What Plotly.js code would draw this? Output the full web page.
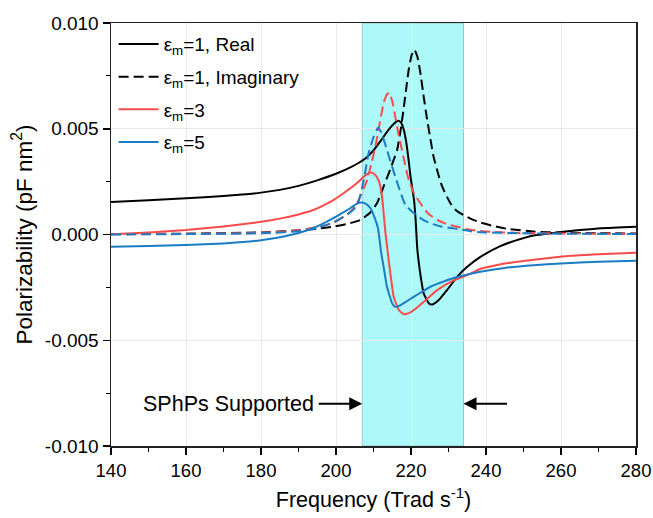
<!DOCTYPE html>
<html>
<head>
<meta charset="utf-8">
<script src="https://cdn.plot.ly/plotly-3.0.1.min.js"></script>
<style>html,body{margin:0;padding:0;background:#fff;}#chart{width:653px;height:518px;}</style>
</head>
<body>
<div id="chart"></div>
<script>
// Values in units of 0.001 pF nm^2 (scaled below)
const blackRealX = [140,150,160,170,175,180,185,190,195,200,203,206,208,210,212,214,215.5,216.5,217.3,218,218.7,219.3,219.9,220.5,220.8,221.2,221.7,222.6,223.4,224.8,225.7,227.4,229.6,232.3,235,238.6,243.8,248,252.7,260,265,270.6,275,280];
const blackRealY = [1.54,1.62,1.71,1.82,1.89,1.98,2.11,2.30,2.56,2.87,3.10,3.38,3.62,3.98,4.45,4.95,5.25,5.38,5.30,5.00,4.40,3.60,2.70,2.00,1.64,0.80,-0.73,-2.00,-2.79,-3.26,-3.31,-3.10,-2.63,-2.00,-1.53,-1.05,-0.55,-0.28,-0.05,0.12,0.21,0.29,0.33,0.37];

const blackImagX = [140,160,180,190,195,199.3,203,206.5,209.2,211,212.7,214.5,216.3,217.2,218,218.8,219.4,220.2,220.9,221.7,222.5,223.4,224.3,225.2,226,227.2,228.3,230.5,232,234,236,238.6,242,245.6,252.7,260,270,280];
const blackImagY = [0.02,0.04,0.10,0.20,0.27,0.37,0.50,0.69,1.05,1.50,2.27,3.10,4.00,4.90,5.90,7.00,7.80,8.50,8.75,8.40,7.64,6.50,5.43,4.50,3.69,2.90,2.27,1.48,1.15,0.92,0.74,0.56,0.40,0.27,0.14,0.09,0.06,0.05];

const redRealX = [140,150,160,170,180,185,190,193.4,196,199.3,202,205.6,207.5,209.2,210.3,211.4,212.2,213.2,214.5,215.4,216.8,218.1,219.4,220.7,223.4,227,231.5,235,238.6,243,248.3,255,261.7,270,280];
const redRealY = [0.01,0.10,0.21,0.38,0.60,0.75,0.95,1.12,1.32,1.63,1.95,2.43,2.75,2.93,2.85,2.55,1.90,0.06,-1.84,-2.95,-3.58,-3.77,-3.72,-3.58,-3.18,-2.63,-2.16,-1.92,-1.62,-1.44,-1.29,-1.15,-1.02,-0.93,-0.86];

const redImagX = [140,160,180,190,195,199.3,203,205,206.5,208.3,209.5,210.5,211.6,212.7,213.5,214.2,215,215.8,216.5,217.2,218.3,219.4,220.8,222.5,224.5,227,230,232.3,235,237.7,242,250,260,280];
const redImagY = [0.01,0.03,0.08,0.20,0.35,0.55,0.95,1.30,1.80,2.58,3.40,4.16,5.20,6.22,6.60,6.70,6.30,5.58,4.90,4.32,3.40,2.58,1.95,1.48,1.00,0.69,0.46,0.37,0.25,0.18,0.12,0.07,0.05,0.03];

const blueRealX = [140,150,160,170,175,180,185,190,193.4,196,199.3,201.5,203.8,205.5,206.9,208,209.2,210.2,211.2,212,212.7,213.5,214.1,215,215.8,217,218.5,220.7,223,225.2,227.5,229.6,233.2,238.5,245,252.7,260,270,280];
const blueRealY = [-0.58,-0.54,-0.50,-0.42,-0.36,-0.27,-0.13,0.07,0.27,0.47,0.77,1.00,1.24,1.45,1.51,1.45,1.24,0.85,0.30,-0.80,-1.53,-2.40,-2.79,-3.26,-3.42,-3.36,-3.20,-2.95,-2.70,-2.47,-2.30,-2.16,-1.97,-1.76,-1.58,-1.45,-1.37,-1.29,-1.24];

const blueImagX = [140,160,180,190,195,199.3,203,204.8,206,207.4,208.7,210,211.2,212,213.6,214.8,215.8,217,218.5,220.8,223,225.2,228,231.5,236.8,240,250,260,280];
const blueImagY = [0.00,0.02,0.06,0.15,0.30,0.58,0.95,1.20,1.55,2.58,3.85,4.60,5.05,4.85,4.00,3.30,2.74,2.10,1.40,1.00,0.72,0.53,0.38,0.29,0.13,0.10,0.06,0.04,0.02];

const seriesNames = ['ε<sub>m</sub>=1, Real','ε<sub>m</sub>=1, Imaginary','ε<sub>m</sub>=3','ε<sub>m</sub>=5'];
const yTickVals = [0.010,0.005,0.000,-0.005,-0.010];
const yTickText = ['0.010','0.005','0.000','-0.005','-0.010'];
const xTickVals = [140,160,180,200,220,240,260,280];
const bandX = [207,234];
const arrowY = -0.008;
const leftArrowFrom = 195, rightArrowFrom = 246;

const sc = a => a.map(v => v/1000);
const BLACK='#000000', RED='#fa4b4b', BLUE='#1a7cc4';

function tr(x,y,name,color,dash,show,group){
  return {x:x,y:sc(y),type:'scatter',mode:'lines',name:name,showlegend:show,legendgroup:group,
    line:{color:color,width:2,dash:dash,shape:'spline',smoothing:0.5},hoverinfo:'skip'};
}
const DASH='10px,5px';
const data = [
  tr(blackRealX,blackRealY,seriesNames[0],BLACK,'solid',true,'a'),
  tr(blackImagX,blackImagY,seriesNames[1],BLACK,DASH,true,'b'),
  tr(redRealX,redRealY,seriesNames[2],RED,'solid',true,'c'),
  tr(redImagX,redImagY,seriesNames[2],RED,DASH,false,'c2'),
  tr(blueRealX,blueRealY,seriesNames[3],BLUE,'solid',true,'d'),
  tr(blueImagX,blueImagY,seriesNames[3],BLUE,DASH,false,'d2')
];

const font = {family:'Liberation Sans, Arial, sans-serif',color:'#000'};
const layout = {
  width:653,height:518,
  margin:{l:111,r:17,t:23,b:72},
  paper_bgcolor:'#fff',plot_bgcolor:'#fff',
  font:Object.assign({size:18},font),
  showlegend:true,
  legend:{x:0.005,y:0.995,xanchor:'left',yanchor:'top',bgcolor:'rgba(0,0,0,0)',
    font:Object.assign({size:19},font),tracegroupgap:5,itemwidth:40},
  xaxis:{range:[140,280],tickvals:xTickVals,ticks:'outside',ticklen:7,tickwidth:1.5,tickcolor:'#000',
    showline:true,linecolor:'#222',linewidth:1.5,mirror:true,showgrid:true,gridcolor:'#e8e8e8',gridwidth:1,
    zeroline:false,tickfont:Object.assign({size:18.5},font),
    minor:{dtick:10,tick0:140,ticks:'outside',ticklen:4,tickcolor:'#000',tickwidth:1.2,showgrid:false},
    title:{text:'Frequency (Trad s<sup>-1</sup>)',font:Object.assign({size:21.5},font),standoff:12}},
  yaxis:{range:[-0.010,0.010],tickvals:yTickVals,ticktext:yTickText,ticks:'outside',ticklen:7,tickwidth:1.5,tickcolor:'#000',
    showline:true,linecolor:'#222',linewidth:1.5,mirror:true,showgrid:true,gridcolor:'#e8e8e8',gridwidth:1,
    zeroline:false,tickfont:Object.assign({size:19},font),
    minor:{dtick:0.0025,tick0:0,ticks:'outside',ticklen:4,tickcolor:'#000',tickwidth:1.2,showgrid:false},
    title:{text:'Polarizability (pF nm<sup>2</sup>)',font:Object.assign({size:22.5},font),standoff:6}},
  shapes:[{type:'rect',xref:'x',yref:'paper',x0:bandX[0],x1:bandX[1],y0:0,y1:1,
    fillcolor:'#adf8f8',line:{color:'#9cc8c8',width:1},layer:'below'}],
  annotations:[
    {x:bandX[0],y:arrowY,xref:'x',yref:'y',axref:'x',ayref:'y',ax:leftArrowFrom,ay:arrowY,text:'',
      showarrow:true,arrowhead:2,arrowsize:1.3,arrowwidth:2,arrowcolor:'#000'},
    {x:bandX[1],y:arrowY,xref:'x',yref:'y',axref:'x',ayref:'y',ax:rightArrowFrom,ay:arrowY,text:'',
      showarrow:true,arrowhead:2,arrowsize:1.3,arrowwidth:2,arrowcolor:'#000'},
    {x:leftArrowFrom-0.3,y:arrowY,xref:'x',yref:'y',text:'SPhPs Supported',showarrow:false,
      xanchor:'right',yanchor:'middle',font:Object.assign({size:21.5},font)}
  ]
};
Plotly.newPlot('chart',data,layout,{displayModeBar:false,staticPlot:true});
</script>
</body>
</html>
